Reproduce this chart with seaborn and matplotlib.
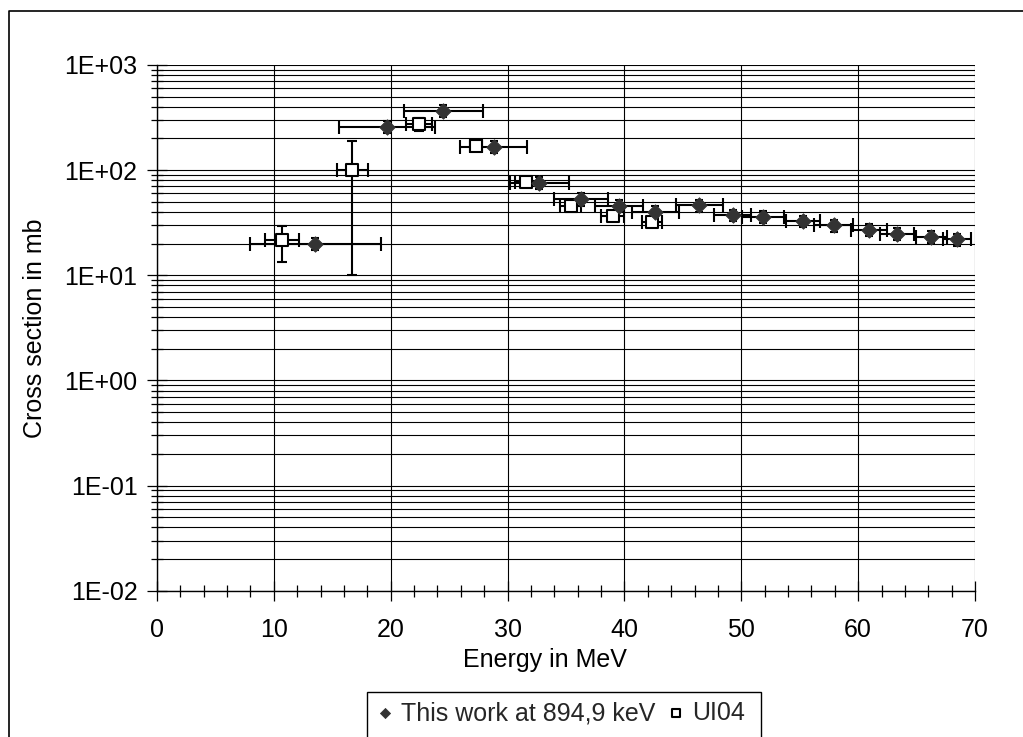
import numpy as np
import pandas as pd
import matplotlib
matplotlib.use("Agg")
import matplotlib.pyplot as plt
import seaborn as sns
from matplotlib.ticker import LogLocator, FixedLocator, MultipleLocator, FuncFormatter, NullFormatter
from matplotlib.patches import Rectangle
from matplotlib.lines import Line2D

# ---- data -------------------------------------------------------------
# This work at 894,9 keV
work_energy = [13.55, 19.66, 24.51, 28.8, 32.73, 36.27, 39.55, 42.64, 46.4,
               49.26, 51.86, 55.25, 57.9, 60.9, 63.33, 66.27, 68.47]
work_sigma = [20.0, 259, 367, 167, 75.7, 53, 45.6, 40.1, 46.4,
              37.3, 36.0, 32.7, 29.9, 27.2, 24.9, 23.2, 22.0]
work_dE = [5.6, 4.1, 3.35, 2.85, 2.54, 2.3, 2.05, 2.0, 2.0,
           1.6, 1.8, 1.45, 1.65, 1.55, 1.45, 1.3, 1.2]
work_dsigma = [2.6, 34, 48, 22, 10, 7, 6, 5.2, 6,
               4.8, 4.7, 4.2, 3.9, 3.5, 3.2, 3.0, 2.9]

# Ul04
ul_energy = [10.7, 16.72, 22.45, 27.3, 31.58, 35.4, 38.98, 42.35]
ul_sigma = [21.5, 100, 274, 169, 77.4, 45.4, 36.5, 32.2]
ul_dE = [1.45, 1.3, 1.1, 0.5, 0.92, 0.9, 1.0, 0.85]
ul_dsigma = [8.0, 90, 39, 15, 7, 4, 3, 3]

work_label = "This work at 894,9 keV"
ul_label = "UI04"

y_ticks = [1e-2, 1e-1, 1e0, 1e1, 1e2, 1e3]
x_ticks = [0, 10, 20, 30, 40, 50, 60, 70]

# ---- style ------------------------------------------------------------
sns.set_style("white")
plt.rcParams["font.family"] = ["Liberation Sans", "DejaVu Sans"]
plt.rcParams["font.size"] = 18

W, H = 1023, 737
fig = plt.figure(figsize=(W / 100, H / 100), dpi=100)
fig.patch.set_facecolor("white")

left, right, top, bottom = 157, 975, 65, 590.7
ax = fig.add_axes([left / W, 1 - bottom / H, (right - left) / W, (bottom - top) / H])
ax.set_facecolor("white")

df_work = pd.DataFrame({"energy": work_energy, "sigma": work_sigma})
df_ul = pd.DataFrame({"energy": ul_energy, "sigma": ul_sigma})

# horizontal (energy) error bars
ax.errorbar(work_energy, work_sigma, xerr=work_dE, fmt="none",
            ecolor="black", elinewidth=1.5, capsize=5, capthick=1.5, zorder=3)
ax.errorbar(ul_energy, ul_sigma, xerr=ul_dE, fmt="none",
            ecolor="black", elinewidth=1.5, capsize=5, capthick=1.5, zorder=3)
# vertical (cross-section) error bars
ax.errorbar(work_energy, work_sigma, yerr=work_dsigma, fmt="none",
            ecolor="black", elinewidth=1.5, capsize=3, capthick=1.5, zorder=3)
ax.errorbar(ul_energy, ul_sigma, yerr=ul_dsigma, fmt="none",
            ecolor="black", elinewidth=1.5, capsize=3.5, capthick=1.5, zorder=3)

sns.scatterplot(data=df_work, x="energy", y="sigma", marker="D", s=62,
                color="#333333", edgecolor="#333333", linewidth=0.6,
                label=work_label, ax=ax, zorder=5)
sns.scatterplot(data=df_ul, x="energy", y="sigma", marker="s", s=64,
                color="white", edgecolor="black", linewidth=1.5,
                label=ul_label, ax=ax, zorder=4)

ax.set_yscale("log")
ax.set_ylim(1e-2, 1e3)
ax.set_xlim(0, 70)

ax.yaxis.set_major_locator(FixedLocator(y_ticks))
ax.yaxis.set_minor_locator(LogLocator(base=10, subs=np.arange(2, 10), numticks=50))
ax.yaxis.set_minor_formatter(NullFormatter())
ax.yaxis.set_major_formatter(FuncFormatter(lambda v, _: f"1E{int(round(np.log10(v))):+03d}"))
ax.xaxis.set_major_locator(FixedLocator(x_ticks))
ax.xaxis.set_minor_locator(MultipleLocator(2))

ax.set_axisbelow(True)
ax.grid(which="major", axis="both", color="black", linewidth=0.8)
ax.grid(which="minor", axis="y", color="black", linewidth=0.8)

for side in ("top", "right"):
    ax.spines[side].set_visible(False)
for side in ("left", "bottom"):
    ax.spines[side].set_color("black")
    ax.spines[side].set_linewidth(1.0)

ax.tick_params(which="major", direction="inout", length=14, width=0.9, color="black",
               labelsize=18, labelcolor="black")
ax.tick_params(which="minor", direction="inout", length=9, width=0.9, color="black")
ax.tick_params(axis="x", which="major", pad=13)
ax.tick_params(axis="y", which="major", pad=7)
ax.tick_params(left=True, bottom=True, which="both")

ax.set_xlabel("Energy in MeV", fontsize=18, color="black")
ax.set_ylabel("Cross section in mb", fontsize=18, color="black")
ax.xaxis.label.set_va("center")
ax.yaxis.label.set_va("center")
ax.xaxis.set_label_coords((545 - left) / (right - left), -(660 - bottom) / (bottom - top))
ax.yaxis.set_label_coords((35 - left) / (right - left), 0.5)

# legend below the plot
handles, labels = ax.get_legend_handles_labels()
ax.legend_.remove()
leg = fig.legend(handles, labels, ncol=2, loc="center",
                 bbox_to_anchor=(561 / W, 1 - 713 / H), frameon=False, fontsize=18,
                 handlelength=0.6, handletextpad=0.35, columnspacing=0.5,
                 markerscale=0.65, borderpad=0.2)
fig.add_artist(Rectangle((367 / W, -0.05), (761 - 367) / W, 0.05 + (H - 692) / H,
                         transform=fig.transFigure, fill=False, edgecolor="black",
                         linewidth=1.0))

# chart area border
fig.add_artist(Line2D([8.7 / W, 8.7 / W, 1.0], [0.0, 1 - 10.7 / H, 1 - 10.7 / H],
                      transform=fig.transFigure, color="black", linewidth=1.2))

fig.savefig("out.png", dpi=100, facecolor="white")
